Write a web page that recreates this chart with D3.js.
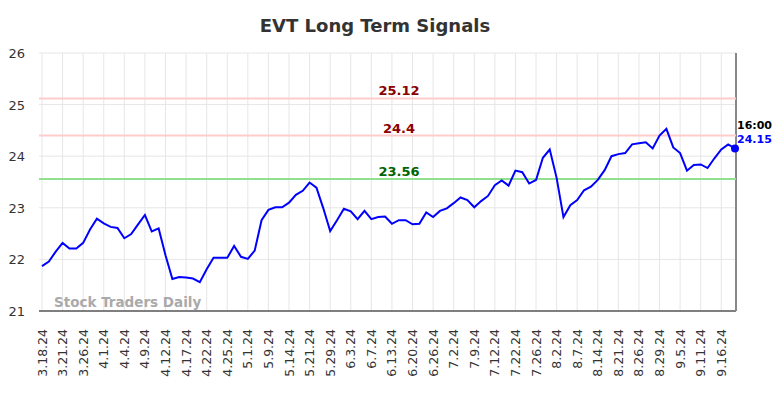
<!DOCTYPE html>
<html>
<head>
<meta charset="utf-8">
<script src="https://cdn.jsdelivr.net/npm/d3@7"></script>
<style>
  body { margin: 0; background: #fff; }
  svg { display: block; font-family: "DejaVu Sans", sans-serif; }
</style>
</head>
<body>
<div id="chart"></div>
<script>
// closing prices, one per trading day, 3.18.24 .. 9.18.24
const prices = [
  21.87, 21.96, 22.15, 22.32, 22.21, 22.21, 22.32, 22.58, 22.79, 22.70,
  22.63, 22.61, 22.41, 22.49, 22.68, 22.86, 22.54, 22.60, 22.08, 21.62,
  21.66, 21.65, 21.63, 21.56, 21.81, 22.03, 22.03, 22.03, 22.26, 22.05,
  22.01, 22.17, 22.76, 22.96, 23.01, 23.01, 23.10, 23.25, 23.33, 23.49,
  23.39, 22.99, 22.55, 22.76, 22.98, 22.93, 22.78, 22.94, 22.78, 22.82,
  22.83, 22.69, 22.76, 22.76, 22.68, 22.69, 22.91, 22.82, 22.94, 22.99,
  23.09, 23.20, 23.15, 23.01, 23.13, 23.23, 23.44, 23.53, 23.43, 23.72,
  23.69, 23.47, 23.54, 23.97, 24.13, 23.58, 22.82, 23.05, 23.15, 23.34,
  23.41, 23.54, 23.73, 24.00, 24.04, 24.06, 24.23, 24.25, 24.27, 24.15,
  24.40, 24.53, 24.17, 24.06, 23.72, 23.83, 23.84, 23.77, 23.96, 24.13,
  24.23, 24.15
];

// one label every third trading day
const tickLabels = [
  "3.18.24", "3.21.24", "3.26.24", "4.1.24", "4.4.24", "4.9.24", "4.12.24",
  "4.17.24", "4.22.24", "4.25.24", "5.1.24", "5.9.24", "5.14.24", "5.21.24",
  "5.29.24", "6.3.24", "6.7.24", "6.13.24", "6.20.24", "6.26.24", "7.2.24",
  "7.9.24", "7.12.24", "7.22.24", "7.26.24", "8.2.24", "8.7.24", "8.14.24",
  "8.21.24", "8.26.24", "8.29.24", "9.5.24", "9.11.24", "9.16.24"
];
const tickStep = 3;

const yTicks = [21, 22, 23, 24, 25, 26];

const resistance = [25.12, 24.4];
const support = [23.56];

const lastTime = "16:00";

const width = 784, height = 398;
const plotLeft = 40, plotRight = 736, plotTop = 53, plotBottom = 311;

const svg = d3.select("#chart").append("svg")
    .attr("width", width)
    .attr("height", height);

const x = d3.scaleLinear().domain([0, prices.length - 1]).range([42, 735]);
const y = d3.scaleLinear().domain([21, 26]).range([plotBottom, plotTop]);

// title
svg.append("text")
    .attr("x", 375)
    .attr("y", 32)
    .attr("text-anchor", "middle")
    .style("font-size", "18px")
    .style("font-weight", "bold")
    .style("fill", "#333")
    .text("EVT Long Term Signals");

// grid
svg.append("g")
    .selectAll("line")
    .data(yTicks.filter(d => d > 21))
    .enter().append("line")
    .attr("x1", plotLeft - 1).attr("x2", plotRight)
    .attr("y1", d => y(d)).attr("y2", d => y(d))
    .style("stroke", "#e6e6e6")
    .style("stroke-width", 1);

svg.append("g")
    .selectAll("line")
    .data(tickLabels)
    .enter().append("line")
    .attr("x1", (d, i) => x(i * tickStep)).attr("x2", (d, i) => x(i * tickStep))
    .attr("y1", plotTop).attr("y2", plotBottom)
    .style("stroke", "#e6e6e6")
    .style("stroke-width", 1);

// y labels
svg.append("g")
    .selectAll("text")
    .data(yTicks)
    .enter().append("text")
    .attr("x", 25)
    .attr("y", d => y(d) + 5)
    .attr("text-anchor", "end")
    .style("font-size", "13px")
    .style("fill", "#333")
    .text(d => d);

// x labels
svg.append("g")
    .selectAll("text")
    .data(tickLabels)
    .enter().append("text")
    .attr("transform", (d, i) => `translate(${x(i * tickStep) + 4.5},329) rotate(-90)`)
    .attr("text-anchor", "end")
    .style("font-size", "12.5px")
    .style("fill", "#333")
    .text(d => d);

// bottom axis line and right edge
svg.append("line")
    .attr("x1", plotLeft - 1).attr("x2", plotRight)
    .attr("y1", plotBottom).attr("y2", plotBottom)
    .style("stroke", "#555")
    .style("stroke-width", 1.5);

svg.append("line")
    .attr("x1", plotRight).attr("x2", plotRight)
    .attr("y1", plotTop).attr("y2", plotBottom)
    .style("stroke", "#888")
    .style("stroke-width", 2);

// signal levels
const levels = resistance.map(v => ({ v, line: "#ffcccc", text: "#8b0000" }))
    .concat(support.map(v => ({ v, line: "#90e090", text: "#006400" })));

svg.append("g")
    .selectAll("line")
    .data(levels)
    .enter().append("line")
    .attr("x1", plotLeft - 1).attr("x2", plotRight)
    .attr("y1", d => y(d.v)).attr("y2", d => y(d.v))
    .style("stroke", d => d.line)
    .style("stroke-width", 2);

svg.append("g")
    .selectAll("text")
    .data(levels)
    .enter().append("text")
    .attr("x", 399)
    .attr("y", d => y(d.v) - 3)
    .attr("text-anchor", "middle")
    .style("font-size", "13px")
    .style("font-weight", "bold")
    .style("fill", d => d.text)
    .text(d => d.v);

// watermark
svg.append("text")
    .attr("x", 54)
    .attr("y", 307)
    .style("font-size", "13.5px")
    .style("font-weight", "bold")
    .style("fill", "#aaa")
    .text("Stock Traders Daily");

// price line
const line = d3.line()
    .x((d, i) => x(i))
    .y(d => y(d));

svg.append("path")
    .datum(prices)
    .attr("d", line)
    .style("fill", "none")
    .style("stroke", "#0000ff")
    .style("stroke-width", 2);

const lastIndex = prices.length - 1;
const lastPrice = prices[lastIndex];

svg.append("circle")
    .attr("cx", x(lastIndex))
    .attr("cy", y(lastPrice))
    .attr("r", 4)
    .style("fill", "#0000ff");

svg.append("text")
    .attr("x", 737)
    .attr("y", 129)
    .style("font-size", "11px")
    .style("font-weight", "bold")
    .style("fill", "#000")
    .text(lastTime);

svg.append("text")
    .attr("x", 737)
    .attr("y", 143)
    .style("font-size", "11px")
    .style("font-weight", "bold")
    .style("fill", "#0000ff")
    .text(lastPrice.toFixed(2));
</script>
</body>
</html>
